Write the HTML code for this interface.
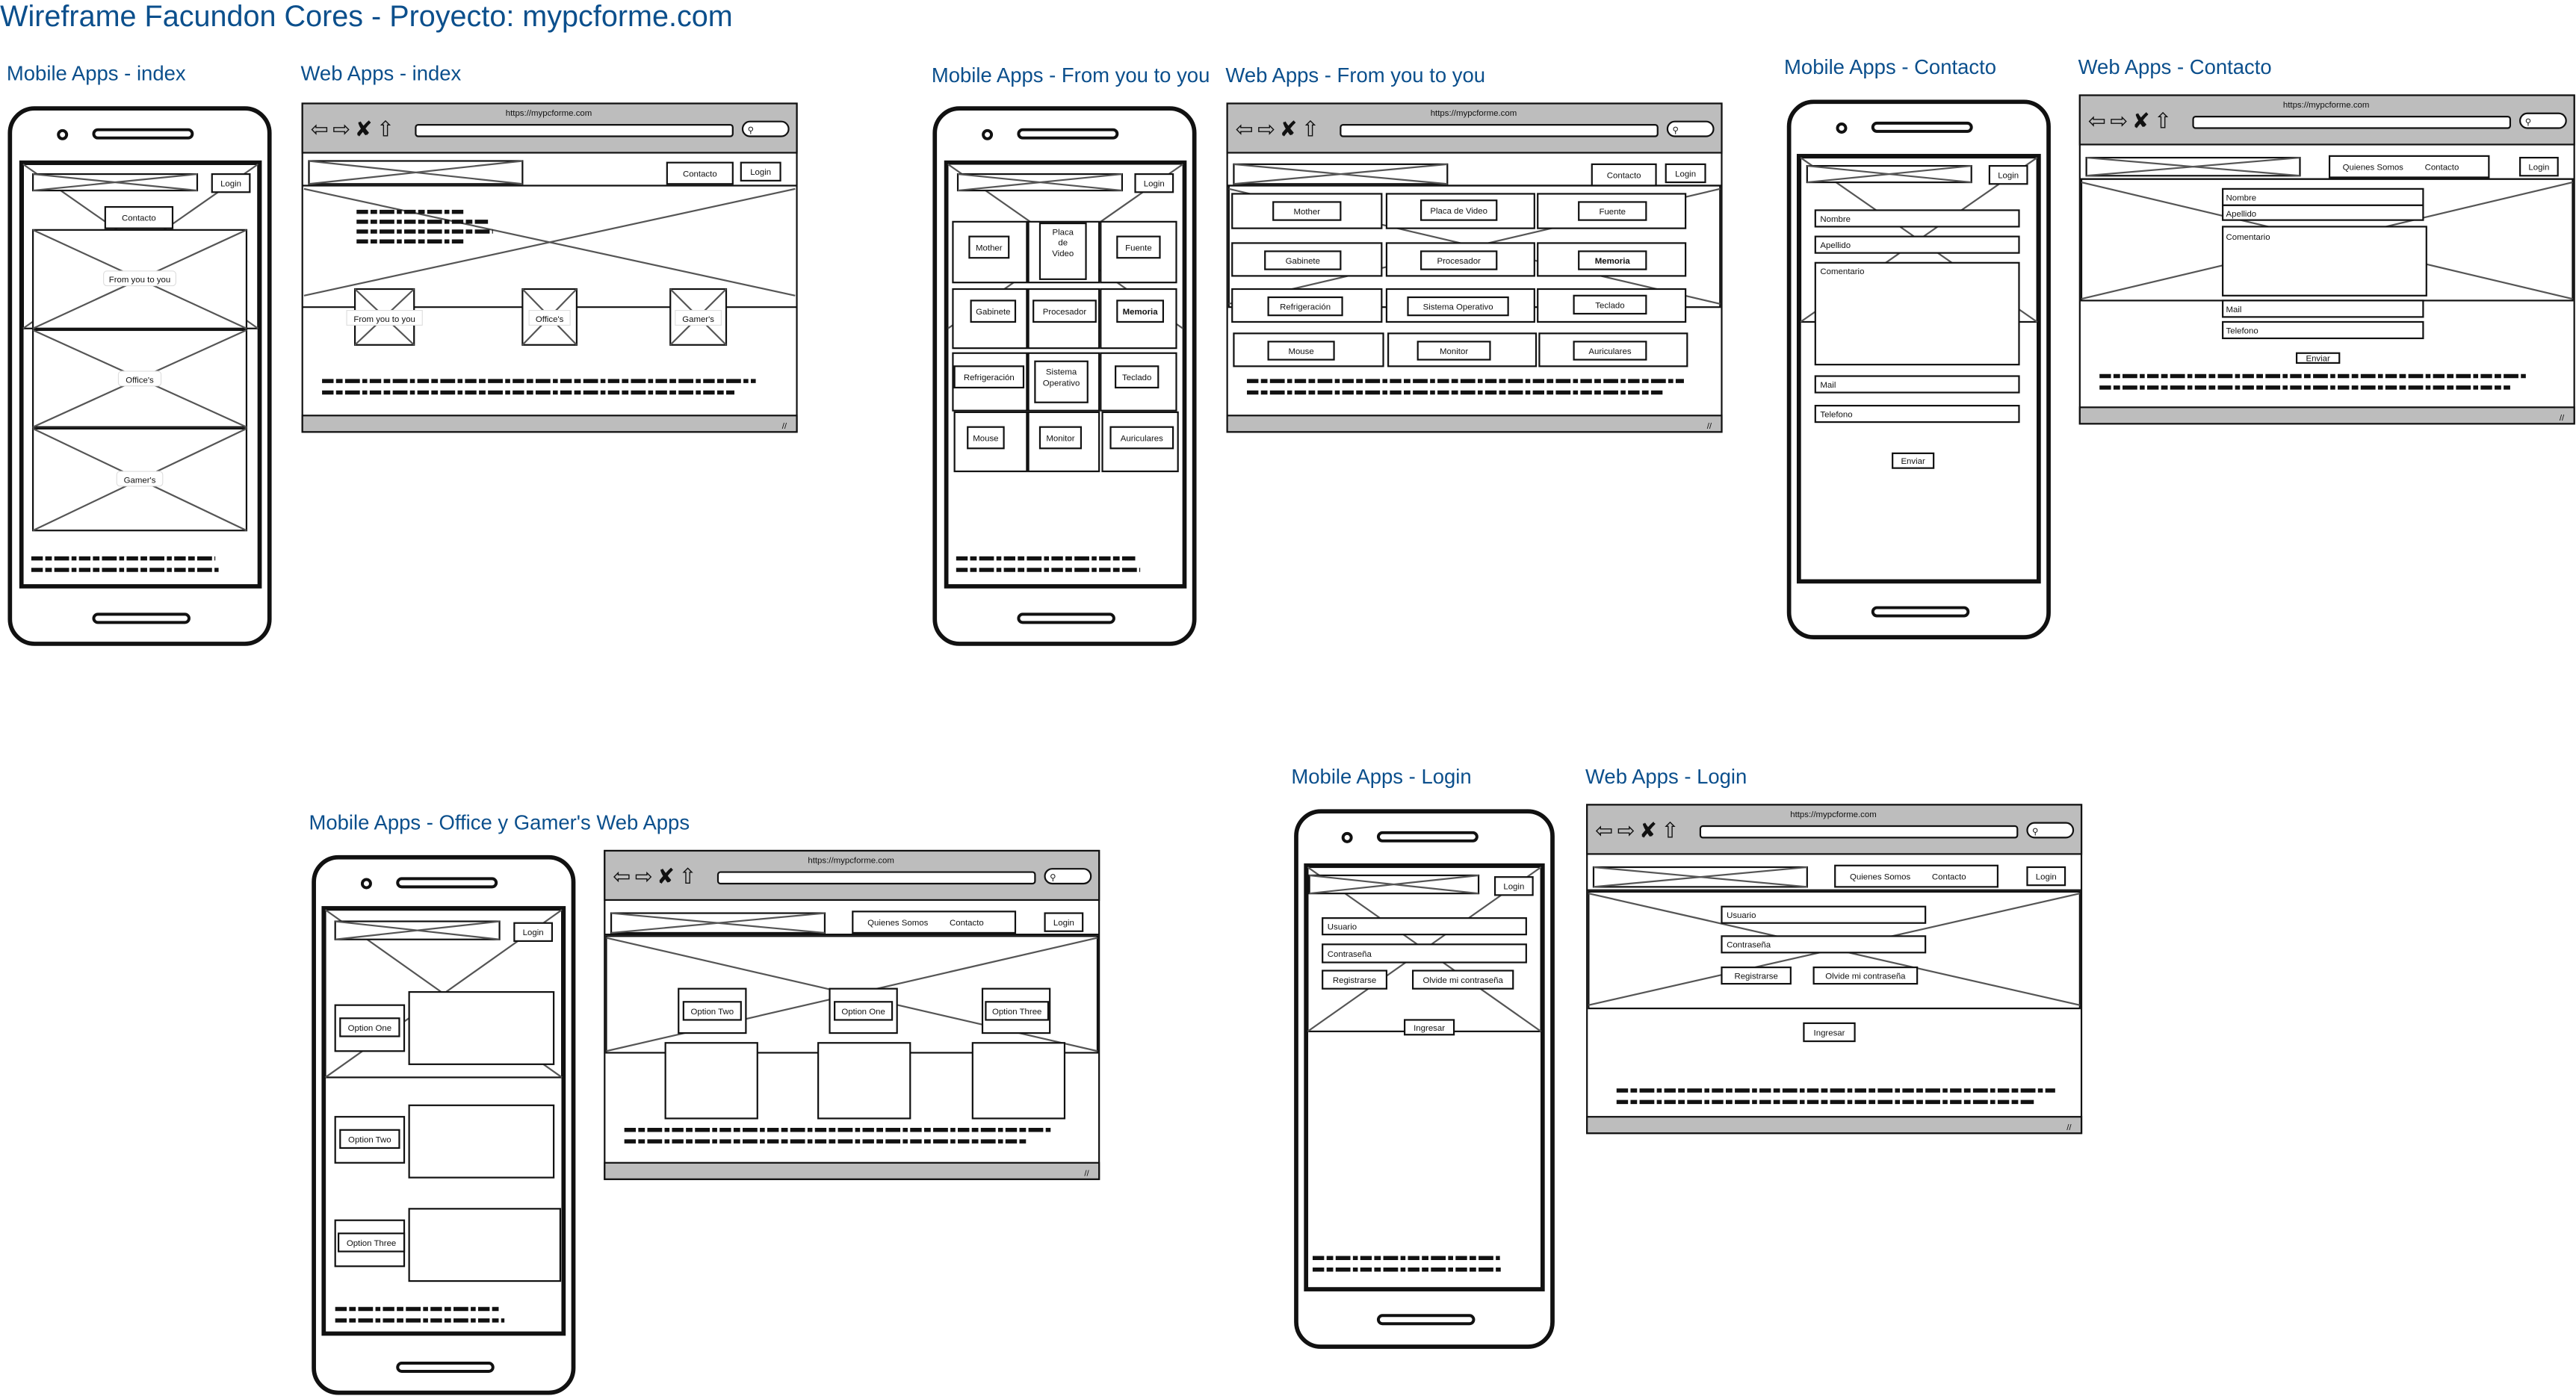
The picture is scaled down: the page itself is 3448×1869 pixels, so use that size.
<!DOCTYPE html>
<html><head><meta charset="utf-8"><style>
html,body{margin:0;padding:0;background:#fff;width:3448px;height:1869px;overflow:hidden}
svg{display:block}
text{font-family:"Liberation Sans",sans-serif;font-size:5.2px;fill:#111}
.h{fill:#0b4f8c;font-size:12.5px}
.T{fill:#0b4f8c;font-size:18px}
.o{fill:#fff;stroke:#111;stroke-width:1}
.n{fill:none;stroke:#111;stroke-width:1}
.t{fill:#fff;stroke:#111;stroke-width:2.6}
.x{fill:none;stroke:#555;stroke-width:1}
.s{stroke:#111;stroke-width:2.5;stroke-dasharray:7 1.5 4 1.5 9 1.5 3 1.5}
.g{fill:#bdbdbd;stroke:#111;stroke-width:1}
.ic{font-size:13px;fill:#111;font-family:"DejaVu Sans",sans-serif;letter-spacing:2.5px}
</style></head><body>
<svg width="3448" height="1869" viewBox="0 0 1568 850" xmlns="http://www.w3.org/2000/svg">
<text class="T" x="0" y="16">Wireframe Facundon Cores - Proyecto: mypcforme.com</text>
<text class="h" x="4" y="49">Mobile Apps - index</text>
<text class="h" x="183" y="49">Web Apps - index</text>
<text class="h" x="567" y="50">Mobile Apps - From you to you</text>
<text class="h" x="746" y="50">Web Apps - From you to you</text>
<text class="h" x="1086" y="45">Mobile Apps - Contacto</text>
<text class="h" x="1265" y="45">Web Apps - Contacto</text>
<text class="h" x="188" y="505">Mobile Apps - Office y Gamer's Web Apps</text>
<text class="h" x="786" y="477">Mobile Apps - Login</text>
<text class="h" x="965" y="477">Web Apps - Login</text>

<!-- PHONE 1 -->
<g transform="translate(5,65)">
<rect class="t" x="1" y="1" width="158" height="326" rx="15"/>
<circle cx="33" cy="17" r="2.5" fill="#fff" stroke="#111" stroke-width="1.8"/>
<rect x="52" y="14" width="60" height="5" rx="2.5" fill="#fff" stroke="#111" stroke-width="1.8"/>
<rect x="52" y="309" width="58" height="5" rx="2.5" fill="#fff" stroke="#111" stroke-width="1.8"/>
<rect class="t" x="8" y="34" width="145" height="258"/>
<rect class="n" x="9" y="35" width="143" height="100"/>
<path class="x" d="M9 35L152 135M152 35L9 135"/>
<rect class="o" x="15" y="41" width="100" height="10"/><path class="x" d="M15 41L115 51M115 41L15 51"/>
<rect class="o" x="124" y="41" width="23" height="11"/><text x="135.5" y="48.5" text-anchor="middle">Login</text>
<rect class="o" x="59" y="61" width="41" height="13"/><text x="79.5" y="69.5" text-anchor="middle">Contacto</text>
<rect class="o" x="15" y="75" width="130" height="60"/><path class="x" d="M15 75L145 135M145 75L15 135"/>
<rect x="58" y="100" width="44" height="9" fill="#fff" stroke="#ddd" stroke-width=".5" rx="2"/><text x="80" y="107" text-anchor="middle">From you to you</text>
<rect class="o" x="15" y="136" width="130" height="59"/><path class="x" d="M15 136L145 195M145 136L15 195"/>
<rect x="67" y="161" width="26" height="9" fill="#fff" stroke="#ddd" stroke-width=".5" rx="2"/><text x="80" y="168" text-anchor="middle">Office's</text>
<rect class="o" x="15" y="196" width="130" height="62"/><path class="x" d="M15 196L145 258M145 196L15 258"/>
<rect x="66" y="222" width="28" height="9" fill="#fff" stroke="#ddd" stroke-width=".5" rx="2"/><text x="80" y="229" text-anchor="middle">Gamer's</text>
<line class="s" x1="14" y1="275" x2="126" y2="275"/><line class="s" x1="14" y1="282" x2="128" y2="282"/>
</g>

<!-- WEB 1 -->
<g transform="translate(184,63)">
<rect class="o" x="0" y="0" width="301" height="200"/>
<rect class="g" x="0" y="0" width="301" height="30"/>
<text x="150" y="7.5" text-anchor="middle" font-size="4.8">https://mypcforme.com</text>
<text class="ic" x="5" y="20">⇦⇨✘⇧</text>
<rect x="69" y="13" width="193" height="7" rx="1.5" class="o"/>
<rect x="268" y="11" width="28" height="9" rx="4.5" class="o"/><text x="271" y="18" font-size="5">⚲</text>
<line class="n" x1="0" y1="50" x2="301" y2="50"/>
<rect class="o" x="4" y="35" width="130" height="14"/><path class="x" d="M4 35L134 49M134 35L4 49"/>
<rect class="o" x="222" y="36" width="40" height="13"/><text x="242" y="44.5" text-anchor="middle">Contacto</text>
<rect class="o" x="267" y="36" width="24" height="11"/><text x="279" y="43.5" text-anchor="middle">Login</text>
<line class="n" x1="0" y1="124" x2="301" y2="124"/>
<path class="x" d="M1 52L300 117M300 52L1 117"/>
<line class="s" x1="33" y1="66" x2="99" y2="66"/><line class="s" x1="33" y1="72" x2="113" y2="72"/>
<line class="s" x1="33" y1="78" x2="116" y2="78"/><line class="s" x1="33" y1="84" x2="98" y2="84"/>
<rect class="o" x="32" y="113" width="36" height="34"/><path class="x" d="M32 113L68 147M68 113L32 147"/>
<rect x="27" y="126" width="46" height="9" fill="#fff" stroke="#ddd" stroke-width=".5"/><text x="50" y="133" text-anchor="middle">From you to you</text>
<rect class="o" x="134" y="113" width="33" height="34"/><path class="x" d="M134 113L167 147M167 113L134 147"/>
<rect x="138" y="126" width="25" height="9" fill="#fff" stroke="#ddd" stroke-width=".5"/><text x="150.5" y="133" text-anchor="middle">Office's</text>
<rect class="o" x="224" y="113" width="34" height="34"/><path class="x" d="M224 113L258 147M258 113L224 147"/>
<rect x="227" y="126" width="28" height="9" fill="#fff" stroke="#ddd" stroke-width=".5"/><text x="241" y="133" text-anchor="middle">Gamer's</text>
<line class="s" x1="12" y1="169" x2="276" y2="169"/><line class="s" x1="12" y1="176" x2="263" y2="176"/>
<rect class="g" x="0" y="190" width="301" height="10"/><text x="292" y="198" font-size="6">//</text>
</g>

<!-- PHONE 2 -->
<g transform="translate(568,65)">
<rect class="t" x="1" y="1" width="158" height="326" rx="15"/>
<circle cx="33" cy="17" r="2.5" fill="#fff" stroke="#111" stroke-width="1.8"/>
<rect x="52" y="14" width="60" height="5" rx="2.5" fill="#fff" stroke="#111" stroke-width="1.8"/>
<rect x="52" y="309" width="58" height="5" rx="2.5" fill="#fff" stroke="#111" stroke-width="1.8"/>
<rect class="t" x="8" y="34" width="145" height="258"/>
<path class="x" d="M9 35L152 135M152 35L9 135"/>
<rect class="o" x="15" y="41" width="100" height="10"/><path class="x" d="M15 41L115 51M115 41L15 51"/>
<rect class="o" x="123" y="41" width="23" height="11"/><text x="134.5" y="48.5" text-anchor="middle">Login</text>
<rect class="o" x="12" y="70" width="45" height="37"/><rect class="o" x="22" y="79" width="24" height="13"/><text x="34" y="87.5" text-anchor="middle">Mother</text>
<rect class="o" x="58" y="70" width="43" height="37"/><rect class="o" x="65" y="71" width="28" height="34"/><text x="79" y="78" text-anchor="middle">Placa</text><text x="79" y="84.5" text-anchor="middle">de</text><text x="79" y="91" text-anchor="middle">Video</text>
<rect class="o" x="102" y="70" width="46" height="37"/><rect class="o" x="112" y="79" width="26" height="13"/><text x="125" y="87.5" text-anchor="middle">Fuente</text>
<rect class="o" x="12" y="111" width="45" height="36"/><rect class="o" x="23" y="118" width="27" height="13"/><text x="36.5" y="126.5" text-anchor="middle">Gabinete</text>
<rect class="o" x="58" y="111" width="43" height="36"/><rect class="o" x="61" y="118" width="38" height="13"/><text x="80" y="126.5" text-anchor="middle">Procesador</text>
<rect class="o" x="102" y="111" width="46" height="36"/><rect class="o" x="112" y="118" width="28" height="13"/><text x="126" y="126.5" text-anchor="middle" font-weight="bold">Memoria</text>
<rect class="o" x="12" y="150" width="45" height="35"/><rect class="o" x="13" y="158" width="42" height="13"/><text x="34" y="166.5" text-anchor="middle">Refrigeración</text>
<rect class="o" x="58" y="150" width="43" height="35"/><rect class="o" x="62" y="155" width="32" height="25"/><text x="78" y="163" text-anchor="middle">Sistema</text><text x="78" y="170" text-anchor="middle">Operativo</text>
<rect class="o" x="102" y="150" width="46" height="35"/><rect class="o" x="111" y="158" width="26" height="13"/><text x="124" y="166.5" text-anchor="middle">Teclado</text>
<rect class="o" x="13" y="186" width="44" height="36"/><rect class="o" x="21" y="195" width="22" height="13"/><text x="32" y="203.5" text-anchor="middle">Mouse</text>
<rect class="o" x="58" y="186" width="43" height="36"/><rect class="o" x="65" y="195" width="25" height="13"/><text x="77.5" y="203.5" text-anchor="middle">Monitor</text>
<rect class="o" x="103" y="186" width="46" height="36"/><rect class="o" x="108" y="195" width="38" height="13"/><text x="127" y="203.5" text-anchor="middle">Auriculares</text>
<line class="s" x1="14" y1="275" x2="123" y2="275"/><line class="s" x1="14" y1="282" x2="126" y2="282"/>
</g>

<!-- WEB 2 -->
<g transform="translate(747,63)">
<rect class="o" x="0" y="0" width="301" height="200"/>
<rect class="g" x="0" y="0" width="301" height="30"/>
<text x="150" y="7.5" text-anchor="middle" font-size="4.8">https://mypcforme.com</text>
<text class="ic" x="5" y="20">⇦⇨✘⇧</text>
<rect x="69" y="13" width="193" height="7" rx="1.5" class="o"/>
<rect x="268" y="11" width="28" height="9" rx="4.5" class="o"/><text x="271" y="18" font-size="5">⚲</text>
<line class="n" x1="0" y1="50" x2="301" y2="50"/>
<rect class="o" x="4" y="37" width="130" height="12"/><path class="x" d="M4 37L134 49M134 37L4 49"/>
<rect class="o" x="222" y="37" width="39" height="13"/><text x="241.5" y="45.5" text-anchor="middle">Contacto</text>
<rect class="o" x="267" y="37" width="24" height="11"/><text x="279" y="44.5" text-anchor="middle">Login</text>
<rect class="n" x="1" y="50" width="299" height="74"/>
<path class="x" d="M1 52L300 122M300 52L1 122"/>
<rect class="o" x="3" y="55" width="91" height="21"/><rect class="o" x="28" y="60" width="41" height="11"/><text x="48.5" y="67.5" text-anchor="middle">Mother</text>
<rect class="o" x="97" y="55" width="90" height="21"/><rect class="o" x="118" y="59" width="46" height="12"/><text x="141" y="67" text-anchor="middle">Placa de Video</text>
<rect class="o" x="189" y="55" width="90" height="21"/><rect class="o" x="214" y="60" width="41" height="11"/><text x="234.5" y="67.5" text-anchor="middle">Fuente</text>
<rect class="o" x="3" y="85" width="91" height="20"/><rect class="o" x="23" y="90" width="46" height="11"/><text x="46" y="97.5" text-anchor="middle">Gabinete</text>
<rect class="o" x="97" y="85" width="90" height="20"/><rect class="o" x="118" y="90" width="46" height="11"/><text x="141" y="97.5" text-anchor="middle">Procesador</text>
<rect class="o" x="189" y="85" width="90" height="20"/><rect class="o" x="214" y="90" width="41" height="11"/><text x="234.5" y="97.5" text-anchor="middle" font-weight="bold">Memoria</text>
<rect class="o" x="3" y="113" width="91" height="20"/><rect class="o" x="25" y="118" width="45" height="11"/><text x="47.5" y="125.5" text-anchor="middle">Refrigeración</text>
<rect class="o" x="97" y="113" width="90" height="20"/><rect class="o" x="110" y="118" width="61" height="11"/><text x="140.5" y="125.5" text-anchor="middle">Sistema Operativo</text>
<rect class="o" x="189" y="113" width="90" height="20"/><rect class="o" x="211" y="117" width="44" height="11"/><text x="233" y="124.5" text-anchor="middle">Teclado</text>
<rect class="o" x="4" y="140" width="91" height="20"/><rect class="o" x="25" y="145" width="40" height="11"/><text x="45" y="152.5" text-anchor="middle">Mouse</text>
<rect class="o" x="98" y="140" width="90" height="20"/><rect class="o" x="116" y="145" width="44" height="11"/><text x="138" y="152.5" text-anchor="middle">Monitor</text>
<rect class="o" x="190" y="140" width="90" height="20"/><rect class="o" x="211" y="145" width="44" height="11"/><text x="233" y="152.5" text-anchor="middle">Auriculares</text>
<line class="s" x1="12" y1="169" x2="278" y2="169"/><line class="s" x1="12" y1="176" x2="265" y2="176"/>
<rect class="g" x="0" y="190" width="301" height="10"/><text x="292" y="198" font-size="6">//</text>
</g>

<!-- PHONE 3 Contacto -->
<g transform="translate(1088,61)">
<rect class="t" x="1" y="1" width="158" height="326" rx="15"/>
<circle cx="33" cy="17" r="2.5" fill="#fff" stroke="#111" stroke-width="1.8"/>
<rect x="52" y="14" width="60" height="5" rx="2.5" fill="#fff" stroke="#111" stroke-width="1.8"/>
<rect x="52" y="309" width="58" height="5" rx="2.5" fill="#fff" stroke="#111" stroke-width="1.8"/>
<rect class="t" x="7" y="34" width="146" height="259"/>
<rect class="n" x="8" y="35" width="144" height="100"/>
<path class="x" d="M8 35L152 135M152 35L8 135"/>
<rect class="o" x="12" y="40" width="100" height="10"/><path class="x" d="M12 40L112 50M112 40L12 50"/>
<rect class="o" x="123" y="40" width="23" height="11"/><text x="134.5" y="47.5" text-anchor="middle">Login</text>
<rect class="o" x="17" y="67" width="124" height="10"/><text x="20" y="74">Nombre</text>
<rect class="o" x="17" y="83" width="124" height="10"/><text x="20" y="90">Apellido</text>
<rect class="o" x="17" y="99" width="124" height="62"/><text x="20" y="106">Comentario</text>
<rect class="o" x="17" y="168" width="124" height="10"/><text x="20" y="175">Mail</text>
<rect class="o" x="17" y="186" width="124" height="10"/><text x="20" y="193">Telefono</text>
<rect class="o" x="64" y="215" width="25" height="9"/><text x="76.5" y="221.5" text-anchor="middle">Enviar</text>
</g>

<!-- WEB 3 Contacto -->
<g transform="translate(1266,58)">
<rect class="o" x="0" y="0" width="301" height="200"/>
<rect class="g" x="0" y="0" width="301" height="30"/>
<text x="150" y="7.5" text-anchor="middle" font-size="4.8">https://mypcforme.com</text>
<text class="ic" x="5" y="20">⇦⇨✘⇧</text>
<rect x="69" y="13" width="193" height="7" rx="1.5" class="o"/>
<rect x="268" y="11" width="28" height="9" rx="4.5" class="o"/><text x="271" y="18" font-size="5">⚲</text>
<line class="n" x1="0" y1="51" x2="301" y2="51"/>
<rect class="o" x="4" y="38" width="130" height="11"/><path class="x" d="M4 38L134 49M134 38L4 49"/>
<rect class="o" x="152" y="37" width="97" height="13"/><text x="160" y="45.5">Quienes Somos</text><text x="210" y="45.5">Contacto</text>
<rect class="o" x="268" y="38" width="23" height="11"/><text x="279.5" y="45.5" text-anchor="middle">Login</text>
<rect class="n" x="1" y="51" width="299" height="74"/>
<path class="x" d="M1 53L300 124M300 53L1 124"/>
<rect class="o" x="87" y="57" width="122" height="10"/><text x="89" y="64">Nombre</text>
<rect class="o" x="87" y="67" width="122" height="9"/><text x="89" y="74">Apellido</text>
<rect class="o" x="87" y="80" width="124" height="42"/><text x="89" y="88">Comentario</text>
<rect class="o" x="87" y="125" width="122" height="10"/><text x="89" y="132">Mail</text>
<rect class="o" x="87" y="138" width="122" height="10"/><text x="89" y="145">Telefono</text>
<rect class="o" x="132" y="157" width="26" height="6"/><text x="145" y="162" text-anchor="middle" font-size="4.5">Enviar</text>
<line class="s" x1="12" y1="171" x2="272" y2="171"/><line class="s" x1="12" y1="178" x2="262" y2="178"/>
<rect class="g" x="0" y="190" width="301" height="10"/><text x="292" y="198" font-size="6">//</text>
</g>

<!-- PHONE 4 Office y Gamer -->
<g transform="translate(190,521)">
<rect class="t" x="1" y="1" width="158" height="326" rx="15"/>
<circle cx="33" cy="17" r="2.5" fill="#fff" stroke="#111" stroke-width="1.8"/>
<rect x="52" y="14" width="60" height="5" rx="2.5" fill="#fff" stroke="#111" stroke-width="1.8"/>
<rect x="52" y="309" width="58" height="5" rx="2.5" fill="#fff" stroke="#111" stroke-width="1.8"/>
<rect class="t" x="7" y="32" width="146" height="259"/>
<rect class="n" x="8" y="33" width="144" height="102"/>
<path class="x" d="M8 33L152 135M152 33L8 135"/>
<rect class="o" x="14" y="40" width="100" height="11"/><path class="x" d="M14 40L114 51M114 40L14 51"/>
<rect class="o" x="123" y="41" width="23" height="11"/><text x="134.5" y="48.5" text-anchor="middle">Login</text>
<rect class="o" x="14" y="91" width="42" height="28"/><rect class="o" x="17" y="99" width="36" height="11"/><text x="35" y="106.5" text-anchor="middle">Option One</text>
<rect class="o" x="59" y="83" width="88" height="44"/>
<rect class="o" x="14" y="159" width="42" height="28"/><rect class="o" x="17" y="167" width="36" height="11"/><text x="35" y="174.5" text-anchor="middle">Option Two</text>
<rect class="o" x="59" y="152" width="88" height="44"/>
<rect class="o" x="14" y="222" width="42" height="28"/><rect class="o" x="16" y="230" width="40" height="11"/><text x="36" y="237.5" text-anchor="middle">Option Three</text>
<rect class="o" x="59" y="215" width="92" height="44"/>
<line class="s" x1="14" y1="276" x2="115" y2="276"/><line class="s" x1="14" y1="283" x2="117" y2="283"/>
</g>

<!-- WEB 4 -->
<g transform="translate(368,518)">
<rect class="o" x="0" y="0" width="301" height="200"/>
<rect class="g" x="0" y="0" width="301" height="30"/>
<text x="150" y="7.5" text-anchor="middle" font-size="4.8">https://mypcforme.com</text>
<text class="ic" x="5" y="20">⇦⇨✘⇧</text>
<rect x="69" y="13" width="193" height="7" rx="1.5" class="o"/>
<rect x="268" y="11" width="28" height="9" rx="4.5" class="o"/><text x="271" y="18" font-size="5">⚲</text>
<line class="n" x1="0" y1="51" x2="301" y2="51"/>
<rect class="o" x="4" y="38" width="130" height="12"/><path class="x" d="M4 38L134 50M134 38L4 50"/>
<rect class="o" x="151" y="37" width="99" height="13"/><text x="160" y="45.5">Quienes Somos</text><text x="210" y="45.5">Contacto</text>
<rect class="o" x="268" y="38" width="23" height="11"/><text x="279.5" y="45.5" text-anchor="middle">Login</text>
<rect class="n" x="1" y="52" width="299" height="71"/>
<path class="x" d="M1 53L300 122M300 53L1 122"/>
<rect class="o" x="45" y="84" width="41" height="27"/><rect class="o" x="48" y="92" width="35" height="11"/><text x="65.5" y="99.5" text-anchor="middle">Option Two</text>
<rect class="o" x="137" y="84" width="41" height="27"/><rect class="o" x="140" y="92" width="35" height="11"/><text x="157.5" y="99.5" text-anchor="middle">Option One</text>
<rect class="o" x="230" y="84" width="41" height="27"/><rect class="o" x="232" y="92" width="38" height="11"/><text x="251" y="99.5" text-anchor="middle">Option Three</text>
<rect class="o" x="37" y="117" width="56" height="46"/>
<rect class="o" x="130" y="117" width="56" height="46"/>
<rect class="o" x="224" y="117" width="56" height="46"/>
<line class="s" x1="12" y1="170" x2="273" y2="170"/><line class="s" x1="12" y1="177" x2="258" y2="177"/>
<rect class="g" x="0" y="190" width="301" height="10"/><text x="292" y="198" font-size="6">//</text>
</g>

<!-- PHONE 5 Login -->
<g transform="translate(788,493)">
<rect class="t" x="1" y="1" width="156" height="326" rx="15"/>
<circle cx="32" cy="17" r="2.5" fill="#fff" stroke="#111" stroke-width="1.8"/>
<rect x="51" y="14" width="60" height="5" rx="2.5" fill="#fff" stroke="#111" stroke-width="1.8"/>
<rect x="51" y="308" width="58" height="5" rx="2.5" fill="#fff" stroke="#111" stroke-width="1.8"/>
<rect class="t" x="7" y="34" width="144" height="258"/>
<rect class="n" x="8" y="35" width="142" height="100"/>
<path class="x" d="M8 35L150 135M150 35L8 135"/>
<rect class="o" x="9" y="40" width="103" height="11"/><path class="x" d="M9 40L112 51M112 40L9 51"/>
<rect class="o" x="122" y="41" width="23" height="11"/><text x="133.5" y="48.5" text-anchor="middle">Login</text>
<rect class="o" x="17" y="66" width="124" height="10"/><text x="20" y="73">Usuario</text>
<rect class="o" x="17" y="82" width="124" height="11"/><text x="20" y="89.5">Contraseña</text>
<rect class="o" x="17" y="98" width="39" height="11"/><text x="36.5" y="105.5" text-anchor="middle">Registrarse</text>
<rect class="o" x="72" y="98" width="61" height="11"/><text x="102.5" y="105.5" text-anchor="middle">Olvide mi contraseña</text>
<rect class="o" x="67" y="128" width="30" height="9"/><text x="82" y="134.5" text-anchor="middle">Ingresar</text>
<line class="s" x1="11" y1="273" x2="125" y2="273"/><line class="s" x1="11" y1="280" x2="126" y2="280"/>
</g>

<!-- WEB 5 Login -->
<g transform="translate(966,490)">
<rect class="o" x="0" y="0" width="301" height="200"/>
<rect class="g" x="0" y="0" width="301" height="30"/>
<text x="150" y="7.5" text-anchor="middle" font-size="4.8">https://mypcforme.com</text>
<text class="ic" x="5" y="20">⇦⇨✘⇧</text>
<rect x="69" y="13" width="193" height="7" rx="1.5" class="o"/>
<rect x="268" y="11" width="28" height="9" rx="4.5" class="o"/><text x="271" y="18" font-size="5">⚲</text>
<line class="n" x1="0" y1="52" x2="301" y2="52"/>
<rect class="o" x="4" y="38" width="130" height="12"/><path class="x" d="M4 38L134 50M134 38L4 50"/>
<rect class="o" x="151" y="37" width="99" height="13"/><text x="160" y="45.5">Quienes Somos</text><text x="210" y="45.5">Contacto</text>
<rect class="o" x="268" y="38" width="23" height="11"/><text x="279.5" y="45.5" text-anchor="middle">Login</text>
<rect class="n" x="1" y="53" width="299" height="71"/>
<path class="x" d="M1 54L300 122M300 54L1 122"/>
<rect class="o" x="82" y="62" width="124" height="10"/><text x="85" y="69">Usuario</text>
<rect class="o" x="82" y="80" width="124" height="10"/><text x="85" y="87">Contraseña</text>
<rect class="o" x="82" y="99" width="42" height="10"/><text x="103" y="106" text-anchor="middle">Registrarse</text>
<rect class="o" x="138" y="99" width="63" height="10"/><text x="169.5" y="106" text-anchor="middle">Olvide mi contraseña</text>
<rect class="o" x="132" y="133" width="31" height="11"/><text x="147.5" y="140.5" text-anchor="middle">Ingresar</text>
<line class="s" x1="18" y1="174" x2="285" y2="174"/><line class="s" x1="18" y1="181" x2="272" y2="181"/>
<rect class="g" x="0" y="190" width="301" height="10"/><text x="292" y="198" font-size="6">//</text>
</g>
</svg>
</body></html>
